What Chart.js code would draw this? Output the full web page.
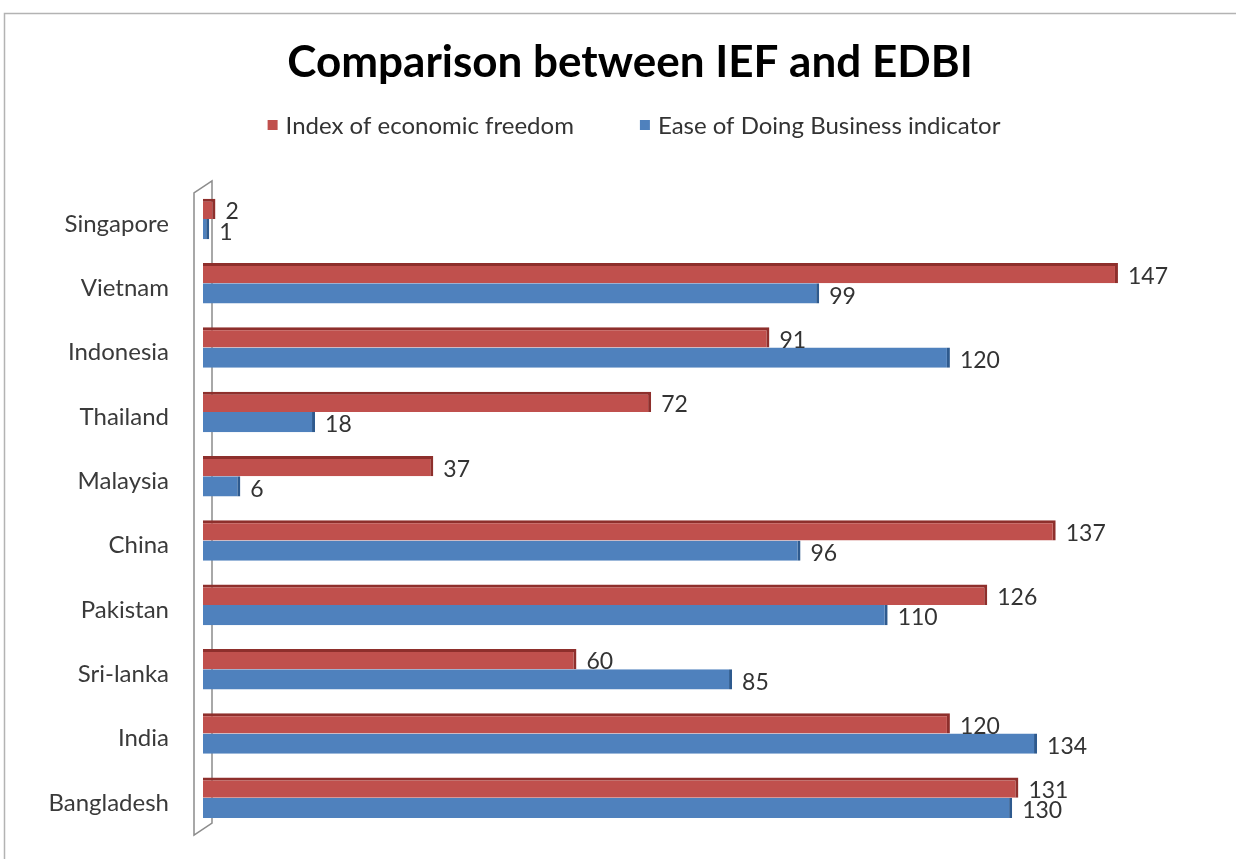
<!DOCTYPE html>
<html>
<head>
<meta charset="utf-8">
<script src="https://cdn.jsdelivr.net/npm/chart.js@4"></script>
<style>
  html, body { margin: 0; padding: 0; background: #fff; }
  canvas { display: block; }
</style>
</head>
<body>
<canvas id="chart" width="1236" height="859"></canvas>
<script>
// Country ranks on the two indices
const categories = ['Singapore', 'Vietnam', 'Indonesia', 'Thailand', 'Malaysia', 'China', 'Pakistan', 'Sri-lanka', 'India', 'Bangladesh'];
const freedomIndex = [2, 147, 91, 72, 37, 137, 126, 60, 120, 131];
const businessIndex = [1, 99, 120, 18, 6, 96, 110, 85, 134, 130];
const seriesNames = ['Index of economic freedom', 'Ease of Doing Business indicator'];
const xMax = 165;

const RED = '#C0504D', RED_DARK = '#8E2F2C';
const BLUE = '#4F81BD', BLUE_DARK = '#2E5A8E';
const FONT = 'Lato, "Open Sans", sans-serif';

// Outer frame, white background and the 3D side wall of the category axis
const framePlugin = {
  id: 'frame',
  beforeDraw(chart) {
    const ctx = chart.ctx;
    ctx.save();
    ctx.fillStyle = '#fff';
    ctx.fillRect(0, 0, chart.width, chart.height);
    ctx.strokeStyle = '#b3b3b3';
    ctx.lineWidth = 1.5;
    ctx.beginPath();
    ctx.moveTo(4.5, chart.height);
    ctx.lineTo(4.5, 13.5);
    ctx.lineTo(chart.width, 13.5);
    ctx.stroke();
    ctx.restore();
  },
  beforeDatasetsDraw(chart) {
    const { ctx, chartArea } = chart;
    const l = chartArea.left;
    ctx.save();
    ctx.strokeStyle = '#8c8c8c';
    ctx.lineWidth = 1.5;
    ctx.beginPath();
    ctx.moveTo(l - 9, chartArea.top + 6);
    ctx.lineTo(l + 9, chartArea.top - 6);
    ctx.lineTo(l + 9, chartArea.bottom - 7);
    ctx.lineTo(l - 9, chartArea.bottom + 5);
    ctx.closePath();
    ctx.stroke();
    ctx.restore();
  }
};

// Legend row under the title
const legendPlugin = {
  id: 'legendRow',
  afterDraw(chart) {
    const ctx = chart.ctx;
    const box = 10, gapText = 8, gapItem = 66, y = 125;
    ctx.save();
    ctx.font = '24px ' + FONT;
    ctx.textBaseline = 'middle';
    const items = chart.data.datasets.map(ds => ({ text: ds.label, color: ds.backgroundColor, w: ctx.measureText(ds.label).width }));
    let total = 0;
    items.forEach((it, i) => { total += box + gapText + it.w + (i ? gapItem : 0); });
    let x = 634 - total / 2;
    items.forEach(it => {
      ctx.fillStyle = it.color;
      ctx.fillRect(x, y - box / 2, box, box);
      ctx.fillStyle = '#333';
      ctx.fillText(it.text, x + box + gapText, y + 1);
      x += box + gapText + it.w + gapItem;
    });
    ctx.restore();
  }
};

// Value labels at the end of each bar
const valuePlugin = {
  id: 'values',
  afterDatasetsDraw(chart) {
    const ctx = chart.ctx;
    ctx.save();
    ctx.font = '23px ' + FONT;
    ctx.fillStyle = '#333';
    ctx.textBaseline = 'middle';
    chart.data.datasets.forEach((ds, di) => {
      chart.getDatasetMeta(di).data.forEach((el, i) => {
        ctx.fillText(String(ds.data[i]), el.x + 10, el.y + 3);
      });
    });
    ctx.restore();
  }
};

new Chart(document.getElementById('chart'), {
  type: 'bar',
  data: {
    labels: categories,
    datasets: [
      {
        label: seriesNames[0],
        data: freedomIndex,
        backgroundColor: RED,
        borderColor: RED_DARK,
        borderWidth: { top: 3, right: 3, bottom: 0, left: 0 },
        borderSkipped: false
      },
      {
        label: seriesNames[1],
        data: businessIndex,
        backgroundColor: BLUE,
        borderColor: BLUE_DARK,
        borderWidth: { top: 0, right: 3, bottom: 0, left: 0 },
        borderSkipped: false
      }
    ]
  },
  options: {
    indexAxis: 'y',
    responsive: false,
    animation: false,
    devicePixelRatio: 1,
    categoryPercentage: 0.63,
    barPercentage: 1,
    layout: { padding: { left: 30, right: 6, top: 0, bottom: 29 } },
    plugins: {
      legend: { display: false },
      tooltip: { enabled: false },
      title: {
        display: true,
        text: 'Comparison between IEF and EDBI',
        color: '#000',
        font: { family: FONT, size: 44, weight: 'bold' },
        padding: { top: 36, bottom: 98 }
      }
    },
    scales: {
      x: {
        min: 0,
        max: xMax,
        display: false
      },
      y: {
        grid: { display: false },
        border: { display: false },
        ticks: {
          color: '#3a3a3a',
          font: { family: FONT, size: 24 },
          padding: 26,
          labelOffset: 5
        },
        afterFit(scale) {
          scale.width = 173;
          scale.paddingTop = 0;
          scale.paddingBottom = 0;
        }
      }
    }
  },
  plugins: [framePlugin, legendPlugin, valuePlugin]
});
</script>
</body>
</html>
